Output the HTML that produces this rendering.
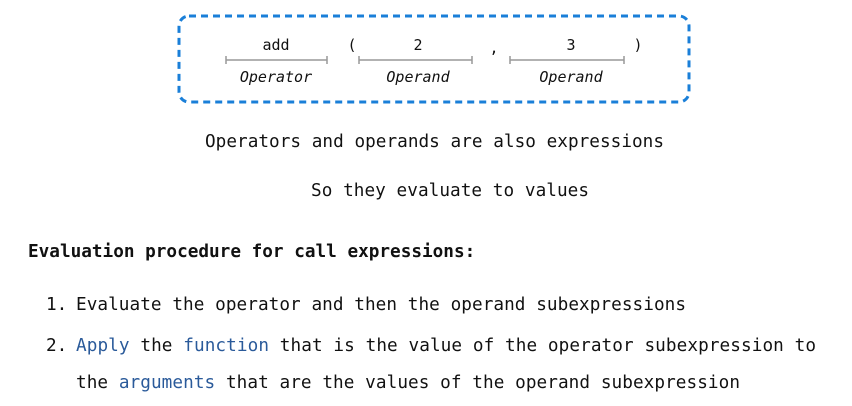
<!DOCTYPE html>
<html><head><style>body{margin:0;background:#fff}svg{display:block}</style></head><body>
<svg width="852" height="406" xmlns="http://www.w3.org/2000/svg" font-family="'DejaVu Sans Mono','Liberation Mono',monospace">
<rect x="179" y="16" width="510" height="86" rx="10" fill="none" stroke="#1a7fd8" stroke-width="3" stroke-dasharray="7,5"/>
<g stroke="#999" stroke-width="1.5">
<line x1="226" y1="60" x2="327" y2="60"/><line x1="226" y1="56" x2="226" y2="64"/><line x1="327" y1="56" x2="327" y2="64"/>
<line x1="359" y1="60" x2="472" y2="60"/><line x1="359" y1="56" x2="359" y2="64"/><line x1="472" y1="56" x2="472" y2="64"/>
<line x1="510" y1="60" x2="624" y2="60"/><line x1="510" y1="56" x2="510" y2="64"/><line x1="624" y1="56" x2="624" y2="64"/>
</g>
<g font-size="15" fill="#111" text-anchor="middle">
<text x="276" y="50">add</text><text x="352" y="50">(</text><text x="418" y="50">2</text>
<text x="494" y="53">,</text><text x="571" y="50">3</text><text x="638" y="50">)</text>
<g font-style="italic"><text x="276" y="82">Operator</text><text x="418" y="82">Operand</text><text x="571" y="82">Operand</text></g>
</g>
<g font-size="17.7" fill="#111">
<text x="205" y="147" textLength="459">Operators and operands are also expressions</text>
<text x="311" y="196" textLength="278">So they evaluate to values</text>
<text x="28" y="257" font-weight="bold">Evaluation procedure for call expressions:</text>
<text x="46" y="310">1.</text>
<text x="76" y="310" textLength="610">Evaluate the operator and then the operand subexpressions</text>
<text x="46" y="351">2.</text>
<text x="76" y="351" textLength="740"><tspan fill="#2a5a9a">Apply</tspan> the <tspan fill="#2a5a9a">function</tspan> that is the value of the operator subexpression to</text>
<text x="76" y="388" textLength="664"><tspan>the </tspan><tspan fill="#2a5a9a">arguments</tspan> that are the values of the operand subexpression</text>
</g>
</svg>
</body></html>
